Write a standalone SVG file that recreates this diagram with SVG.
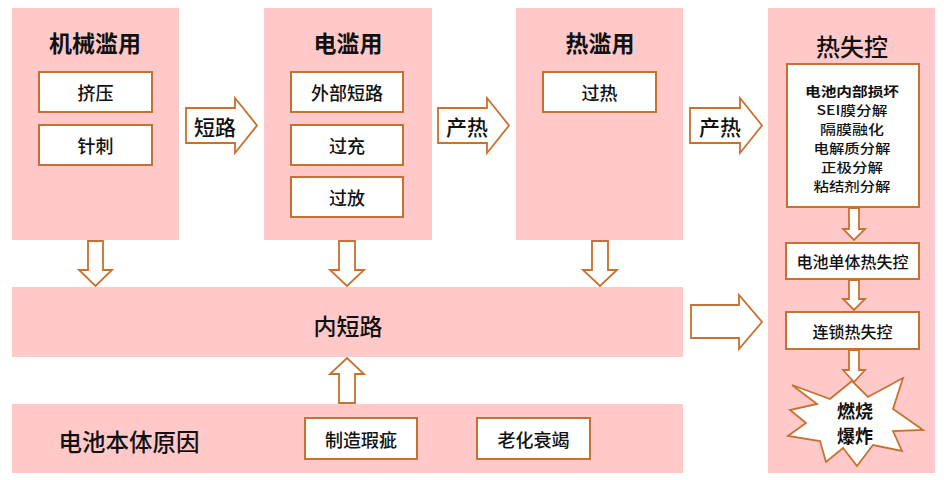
<svg xmlns="http://www.w3.org/2000/svg" width="944" height="480" viewBox="0 0 944 480">
<style>
.panel{fill:#FFC9C9;stroke:none}
.box{fill:#FFFFFF;stroke:#C8702F;stroke-width:2}
.arr{fill:#FFFFFF;stroke:#C8702F;stroke-width:1.8;stroke-linejoin:miter}
text{font-family:"Noto Sans CJK SC","Noto Sans",sans-serif;fill:#111;text-anchor:middle;dominant-baseline:central}
.title{font-size:23px;font-weight:bold}
.t18{font-size:18px;font-weight:500}
.t16{font-size:16px;font-weight:500}
.t13{font-size:13px;font-weight:500}
.lbl{font-size:21px;font-weight:500}
</style>
<rect width="944" height="480" fill="#FFFFFF"/>
<g id="mech">
<rect class="panel" x="12" y="8" width="167" height="232"/>
<text class="title" x="95" y="42">机械滥用</text>
<rect class="box" x="39" y="72" width="113" height="40"/>
<text class="t18" x="95.5" y="92">挤压</text>
<rect class="box" x="39" y="125" width="113" height="40"/>
<text class="t18" x="95.5" y="145">针刺</text>
</g>
<g id="elec">
<rect class="panel" x="264" y="8" width="168" height="232"/>
<text class="title" x="348" y="42">电滥用</text>
<rect class="box" x="291" y="72" width="112" height="40"/>
<text class="t18" x="347" y="92">外部短路</text>
<rect class="box" x="291" y="125" width="112" height="40"/>
<text class="t18" x="347" y="145">过充</text>
<rect class="box" x="291" y="177" width="112" height="40"/>
<text class="t18" x="347" y="197">过放</text>
</g>
<g id="therm">
<rect class="panel" x="516" y="8" width="167" height="232"/>
<text class="title" x="600" y="42">热滥用</text>
<rect class="box" x="543" y="72" width="113" height="40"/>
<text class="t18" x="599.5" y="92">过热</text>
</g>
<g id="runaway">
<rect class="panel" x="768" y="8" width="167" height="465"/>
<text x="852" y="45" style="font-size:24px;font-weight:500">热失控</text>
<rect class="box" x="787" y="64" width="132" height="143"/>
<text class="t13" x="852" y="90" textLength="94" lengthAdjust="spacingAndGlyphs" style="font-weight:bold">电池内部损坏</text>
<text class="t13" x="852" y="109" textLength="71" lengthAdjust="spacingAndGlyphs">SEI膜分解</text>
<text class="t13" x="852" y="128" textLength="64" lengthAdjust="spacingAndGlyphs">隔膜融化</text>
<text class="t13" x="852" y="147" textLength="77" lengthAdjust="spacingAndGlyphs">电解质分解</text>
<text class="t13" x="852" y="166" textLength="62" lengthAdjust="spacingAndGlyphs">正极分解</text>
<text class="t13" x="852" y="185" textLength="77" lengthAdjust="spacingAndGlyphs">粘结剂分解</text>
</g>
<g id="cell">
<rect class="box" x="786" y="243" width="133" height="36"/>
<text class="t16" x="852.5" y="261">电池单体热失控</text>
</g>
<g id="chain">
<rect class="box" x="786" y="312" width="133" height="37"/>
<text class="t16" x="852.5" y="330.5">连锁热失控</text>
</g>
<g id="explode">
<polygon class="arr" points="792,385 830,399 852,381 868,397 903,378 893,409 923,430 893,431 902,451 873,445 857,466 843,448 826,462 820,441 788,436 806,423 790,410 817,404"/>
<text style="font-size:18px;font-weight:bold"><tspan x="855" y="410">燃烧</tspan><tspan x="855" y="435">爆炸</tspan></text>
</g>
<g id="isc">
<rect class="panel" x="12" y="287" width="671" height="70"/>
<text x="348" y="325" style="font-size:23px;font-weight:500">内短路</text>
</g>
<g id="intrinsic">
<rect class="panel" x="12" y="404" width="671" height="69"/>
<text x="129" y="441" style="font-size:23.5px;font-weight:500">电池本体原因</text>
<rect class="box" x="305" y="418" width="112" height="41"/>
<text class="t18" x="361" y="438.5">制造瑕疵</text>
<rect class="box" x="477" y="418" width="113" height="41"/>
<text class="t18" x="533.5" y="438.5">老化衰竭</text>
</g>
<g id="connectors">
<polygon class="arr" points="186,108 235,108 235,98 257,125.5 235,153 235,143 186,143"/>
<text class="lbl" x="215" y="126">短路</text>
<polygon class="arr" points="438,108 487,108 487,98 509,125.5 487,153 487,143 438,143"/>
<text class="lbl" x="467" y="126">产热</text>
<polygon class="arr" points="690,108 740,108 740,98 762,125.5 740,153 740,143 690,143"/>
<text class="lbl" x="720" y="126">产热</text>
<polygon class="arr" points="88,241 103,241 103,270 112,270 95.5,286 79,270 88,270"/>
<polygon class="arr" points="339,241 355,241 355,270 364,270 347,286 330,270 339,270"/>
<polygon class="arr" points="592,241 608,241 608,270 617,270 600,286 583,270 592,270"/>
<polygon class="arr" points="339,403 355,403 355,374 364,374 347,358 330,374 339,374"/>
<polygon class="arr" points="691,305 739,305 739,295 762,322 739,349 739,338 691,338"/>
<polygon class="arr" points="849,208 859,208 859,229 865,229 854,240 843,229 849,229"/>
<polygon class="arr" points="849,280 859,280 859,299 865,299 854,310 843,299 849,299"/>
<polygon class="arr" points="849,350 859,350 859,370 865,370 854,382 843,370 849,370"/>
</g>
</svg>
